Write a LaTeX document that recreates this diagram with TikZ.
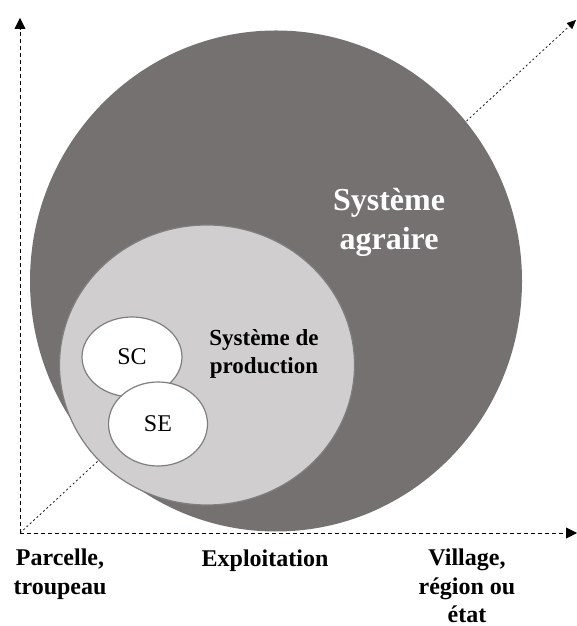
\documentclass[tikz,border=0pt]{standalone}
\usepackage{fontspec}
\setmainfont{Liberation Serif}
\usetikzlibrary{arrows.meta,shapes.geometric}

\definecolor{darkgrey}{HTML}{767171}
\definecolor{lightgrey}{HTML}{D0CECE}
\definecolor{rimgrey}{HTML}{7F7F7F}

\begin{document}
\begin{tikzpicture}[x=1pt,y=1pt,>={Triangle[length=11pt,width=11pt]},
  semithick]
  \tikzstyle{every node}=[inner sep=0pt,outer sep=0pt]
  \tikzstyle{disc}=[ellipse,draw=rimgrey,line width=1.2pt]
  \tikzstyle{axis}=[->,dash pattern=on 4pt off 3pt,line width=0.9pt]
  \tikzstyle{lab}=[font=\bfseries\fontsize{24}{29}\selectfont,align=center]

  \useasboundingbox (0,0) rectangle (577,626);

  \coordinate (O) at (20,93);
  \coordinate (Y) at (20,608);
  \coordinate (X) at (577,93);
  \coordinate (D) at (576,606);

  % diagonal goes behind the circles
  \draw[->,>={Triangle[length=9pt,width=8pt]},dash pattern=on 2pt off 2.5pt,
    line width=0.7pt] (O) -- (D);

  \node[ellipse,fill=darkgrey,minimum width=492pt,minimum height=501pt]
    (agr) at (276,345) {};
  \node[disc,fill=lightgrey,minimum width=295pt,minimum height=280pt]
    (prod) at (207,261) {};
  \node[disc,fill=white,minimum width=100pt,minimum height=80pt]
    (sc) at (132,269) {\fontsize{24}{28}\selectfont SC};
  \node[disc,fill=white,minimum width=99pt,minimum height=84pt]
    (se) at (158,202) {\fontsize{24}{28}\selectfont SE};

  \node[lab,text=white,font=\bfseries\fontsize{32}{39}\selectfont]
    (tagr) at (389,404) {Système\\agraire};
  \node[lab,font=\bfseries\fontsize{23}{28}\selectfont]
    (tprod) at (264,272) {Système de\\production};

  \draw[axis] (O) -- (Y);
  \draw[axis] (O) -- (X);

  \node[lab] (parc) at (60,52) {Parcelle,\\troupeau};
  \node[lab] (expl) at (265,65) {Exploitation};
  \node[lab,font=\bfseries\fontsize{24}{28.5}\selectfont]
    (vill) at (467,40) {Village,\\région ou\\état};
\end{tikzpicture}
\end{document}
